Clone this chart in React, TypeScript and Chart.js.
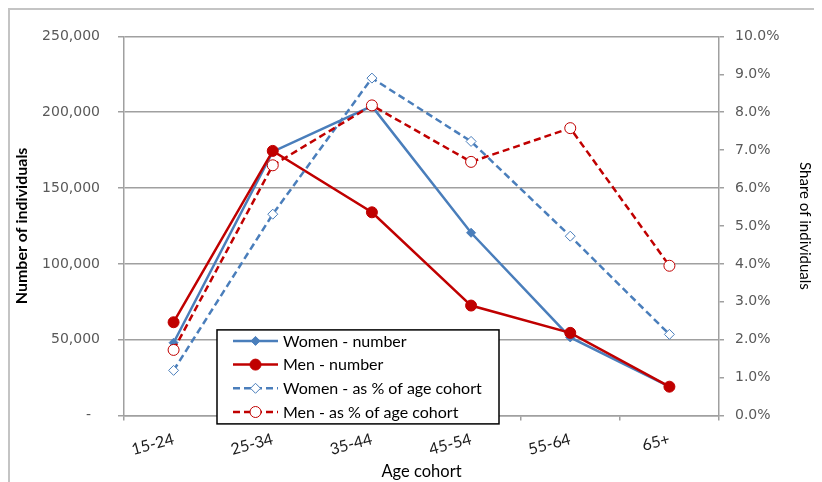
import React, { useEffect, useRef } from "react";
import { Chart, registerables } from "chart.js";

Chart.register(...registerables);

const categories = ["15-24", "25-34", "35-44", "45-54", "55-64", "65+"];
const seriesNames = [
  "Women - number",
  "Men - number",
  "Women - as % of age cohort",
  "Men - as % of age cohort",
];
const womenNumber = [48000, 174000, 204000, 120500, 51500, 19000];
const menNumber = [61500, 174500, 134000, 72500, 54500, 19000];
const womenShare = [0.0119, 0.0531, 0.089, 0.0723, 0.0473, 0.0214];
const menShare = [0.0173, 0.066, 0.0818, 0.0669, 0.0758, 0.0395];

const leftTitle = "Number of individuals";
const rightTitle = "Share of individuals";
const xTitle = "Age cohort";

const BLUE = "#4A7EBB";
const RED = "#C00000";
const GRID = "#a0a0a0";
const TICK_COLOR = "#595959";

function drawMarker(ctx: CanvasRenderingContext2D, style: string, x: number, y: number, r: number, fill: string, stroke: string) {
  ctx.beginPath();
  if (style === "rectRot") {
    ctx.moveTo(x, y - r);
    ctx.lineTo(x + r, y);
    ctx.lineTo(x, y + r);
    ctx.lineTo(x - r, y);
    ctx.closePath();
  } else {
    ctx.arc(x, y, r, 0, Math.PI * 2);
  }
  ctx.setLineDash([]);
  ctx.fillStyle = fill;
  ctx.fill();
  ctx.lineWidth = 1;
  ctx.strokeStyle = stroke;
  ctx.stroke();
}

const boxLegend = {
  id: "boxLegend",
  afterDatasetsDraw(chart: any) {
    const { ctx, chartArea } = chart;
    const x0 = chartArea.left + 93;
    const y0 = chartArea.top + 293.5;
    const w = 282;
    const h = 94;
    ctx.save();
    ctx.fillStyle = "#ffffff";
    ctx.fillRect(x0, y0, w, h);
    ctx.strokeStyle = "#000000";
    ctx.lineWidth = 1.5;
    ctx.setLineDash([]);
    ctx.strokeRect(x0, y0, w, h);
    chart.data.datasets.forEach((ds: any, i: number) => {
      const cy = y0 + 11 + i * 23.7;
      ctx.beginPath();
      ctx.setLineDash(ds.borderDash || []);
      ctx.lineWidth = ds.borderWidth;
      ctx.strokeStyle = ds.borderColor;
      ctx.moveTo(x0 + 16, cy);
      ctx.lineTo(x0 + 61, cy);
      ctx.stroke();
      drawMarker(ctx, ds.pointStyle, x0 + 38.5, cy, ds.pointRadius, ds.pointBackgroundColor, ds.pointBorderColor);
      ctx.fillStyle = "#000000";
      ctx.font = "16px Lato";
      ctx.textAlign = "left";
      ctx.textBaseline = "middle";
      ctx.fillText(ds.label, x0 + 66, cy + 0.5);
    });
    ctx.restore();
  },
};

export default function App() {
  const canvasRef = useRef<HTMLCanvasElement | null>(null);

  useEffect(() => {
    const canvas = canvasRef.current;
    if (!canvas) return;
    const chart = new Chart(canvas, {
      type: "line",
      data: {
        labels: categories,
        datasets: [
          {
            label: seriesNames[0],
            data: womenNumber,
            yAxisID: "y",
            borderColor: BLUE,
            borderWidth: 2.5,
            pointStyle: "rectRot",
            pointRadius: 4.5,
            pointBackgroundColor: BLUE,
            pointBorderColor: BLUE,
            borderDash: [],
            order: 4,
          },
          {
            label: seriesNames[1],
            data: menNumber,
            yAxisID: "y",
            borderColor: RED,
            borderWidth: 2.5,
            pointStyle: "circle",
            pointRadius: 5.5,
            pointBackgroundColor: RED,
            pointBorderColor: RED,
            borderDash: [],
            order: 3,
          },
          {
            label: seriesNames[2],
            data: womenShare,
            yAxisID: "y1",
            borderColor: BLUE,
            borderWidth: 2.5,
            borderDash: [7, 4],
            pointStyle: "rectRot",
            pointRadius: 5,
            pointBackgroundColor: "#ffffff",
            pointBorderColor: BLUE,
            order: 2,
          },
          {
            label: seriesNames[3],
            data: menShare,
            yAxisID: "y1",
            borderColor: RED,
            borderWidth: 2.5,
            borderDash: [7, 4],
            pointStyle: "circle",
            pointRadius: 5.5,
            pointBackgroundColor: "#ffffff",
            pointBorderColor: RED,
            order: 1,
          },
        ] as any,
      },
      options: {
        responsive: false,
        animation: false,
        devicePixelRatio: 1,
        layout: { padding: { top: 14.5, left: 0, right: 0, bottom: 0 } },
        elements: {
          line: { tension: 0 },
          point: { pointBorderWidth: 1, hoverRadius: 5 } as any,
        },
        plugins: {
          legend: { display: false },
          tooltip: { enabled: false },
        },
        scales: {
          x: {
            type: "category",
            offset: true,
            grid: {
              display: true,
              drawOnChartArea: false,
              drawTicks: true,
              tickLength: 5,
              offset: true,
              color: GRID,
              lineWidth: 1.5,
            },
            border: { display: true, color: GRID, width: 1.5 },
            ticks: {
              minRotation: 15,
              maxRotation: 15,
              padding: 9,
              color: "#1a1a1a",
              font: { family: "Lato", size: 16 },
            },
            title: {
              display: true,
              text: xTitle,
              color: "#000000",
              font: { family: "Lato", size: 16.5 },
              padding: { top: 0, bottom: 0 },
            },
            afterFit: (scale: any) => {
              scale.height = 66.5;
            },
          },
          y: {
            type: "linear",
            position: "left",
            min: 0,
            max: 250000,
            grid: {
              color: GRID,
              lineWidth: 1.5,
              tickLength: 6,
              drawTicks: true,
            },
            border: { display: true, color: GRID, width: 1.5 },
            ticks: {
              stepSize: 50000,
              padding: 18,
              color: TICK_COLOR,
              font: { family: "DejaVu Sans", size: 14 },
              callback: (v: any) => (Number(v) === 0 ? "-  " : Number(v).toLocaleString("en-US")),
            },
            title: {
              display: true,
              text: leftTitle,
              color: "#000000",
              font: { family: "Lato", size: 16, weight: "bold" },
              padding: { top: 2.5, bottom: 0 },
            },
            afterFit: (scale: any) => {
              scale.width = 114;
            },
          },
          y1: {
            type: "linear",
            position: "right",
            min: 0,
            max: 0.1,
            grid: {
              drawOnChartArea: false,
              drawTicks: true,
              tickLength: 5,
              color: GRID,
              lineWidth: 1.5,
            },
            border: { display: true, color: GRID, width: 1.5 },
            ticks: {
              stepSize: 0.01,
              padding: 11,
              color: TICK_COLOR,
              font: { family: "DejaVu Sans", size: 14 },
              callback: (v: any) => (Number(v) * 100).toFixed(1) + "%",
            },
            title: {
              display: true,
              text: rightTitle,
              color: "#000000",
              font: { family: "Lato", size: 15 },
              padding: { top: 8, bottom: 0 },
            },
            afterFit: (scale: any) => {
              scale.width = 103;
            },
          },
        },
      } as any,
      plugins: [boxLegend],
    });
    return () => chart.destroy();
  }, []);

  return (
    <div
      style={{
        position: "relative",
        width: 814,
        height: 474,
        boxSizing: "border-box",
        borderLeft: "2px solid #c4c4c4",
        borderTop: "2px solid #c4c4c4",
        background: "#ffffff",
        overflow: "hidden",
      }}
    >
      <canvas ref={canvasRef} width={812} height={472} style={{ display: "block", width: 812, height: 472 }} />
    </div>
  );
}
